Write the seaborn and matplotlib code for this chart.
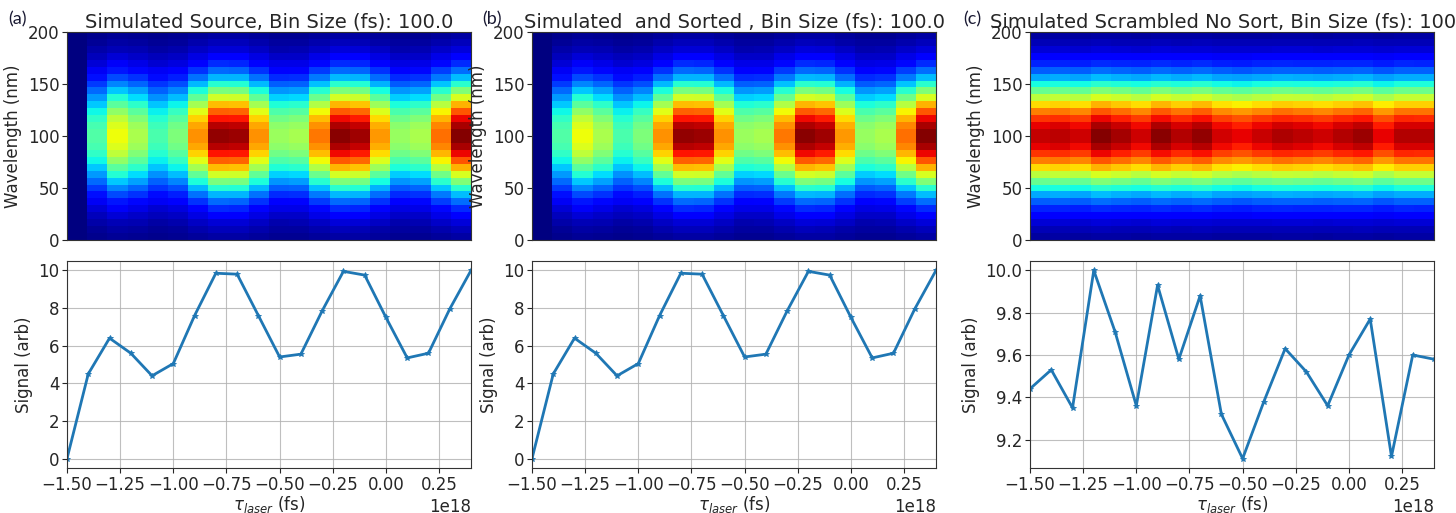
import numpy as np
import pandas as pd
import seaborn as sns
import matplotlib.pyplot as plt

# %%
# delay axis (fs), 20 bins
tau = [-1.5e18, -1.4e18, -1.3e18, -1.2e18, -1.1e18, -1.0e18, -0.9e18, -0.8e18, -0.7e18, -0.6e18,
       -0.5e18, -0.4e18, -0.3e18, -0.2e18, -0.1e18, 0.0, 0.1e18, 0.2e18, 0.3e18, 0.4e18]

signal_source = [0.0, 4.5, 6.4, 5.6, 4.4, 5.05, 7.6, 9.85, 9.8, 7.6,
                 5.4, 5.55, 7.85, 9.95, 9.75, 7.5, 5.35, 5.6, 7.95, 10.0]
signal_sorted = [0.0, 4.5, 6.4, 5.6, 4.4, 5.05, 7.6, 9.85, 9.8, 7.6,
                 5.4, 5.55, 7.85, 9.95, 9.75, 7.5, 5.35, 5.6, 7.95, 10.0]
signal_scrambled = [9.44, 9.53, 9.35, 10.0, 9.71, 9.36, 9.93, 9.58, 9.88, 9.32,
                    9.11, 9.38, 9.63, 9.52, 9.36, 9.6, 9.77, 9.12, 9.6, 9.58]

# spectral profile, 30 rows from 0 to 200 nm (relative)
spectrum = [0.033, 0.052, 0.079, 0.117, 0.167, 0.231, 0.309, 0.401, 0.504, 0.612,
            0.720, 0.820, 0.904, 0.964, 0.996, 0.996, 0.964, 0.904, 0.820, 0.720,
            0.612, 0.504, 0.401, 0.309, 0.231, 0.167, 0.117, 0.079, 0.052, 0.033]

titles = ["Simulated Source, Bin Size (fs): 100.0",
          "Simulated  and Sorted , Bin Size (fs): 100.0",
          "Simulated Scrambled No Sort, Bin Size (fs): 100.0"]
letters = ["(a)", "(b)", "(c)"]
signals = [signal_source, signal_sorted, signal_scrambled]

# %%
sns.set_style("ticks")
plt.rcParams["font.family"] = "DejaVu Sans"

fig = plt.figure(figsize=(14.56, 5.13), dpi=100)
W, H = 1456, 513
lefts = [67, 532, 1030]
letter_x = [8, 482, 963]
width = 404
fs = 12

for k in range(3):
    x0 = lefts[k]
    ax_top = fig.add_axes([x0 / W, 1 - 240 / H, width / W, 208 / H])
    ax_bot = fig.add_axes([x0 / W, 1 - 468 / H, width / W, 207 / H])

    img = np.outer(spectrum, signals[k])
    sns.heatmap(img, ax=ax_top, cmap="jet", vmin=0, vmax=max(signals[k]), cbar=False,
                xticklabels=False, yticklabels=False)
    ax_top.invert_yaxis()
    n = len(spectrum)
    ax_top.set_yticks([0, n * 0.25, n * 0.5, n * 0.75, n])
    ax_top.set_yticklabels(["0", "50", "100", "150", "200"], rotation=0, fontsize=fs)
    ax_top.set_xticks([])
    ax_top.tick_params(axis="y", length=3.5, width=0.8, left=True, pad=2)
    ax_top.set_ylabel("Wavelength (nm)", fontsize=fs)
    for s in ax_top.spines.values():
        s.set_visible(True)
        s.set_linewidth(0.8)
        s.set_color("#333333")
    ax_top.set_title(titles[k], fontsize=14, pad=2)

    df = pd.DataFrame({"tau": tau, "signal": signals[k]})
    sns.lineplot(data=df, x="tau", y="signal", ax=ax_bot, color="#1f77b4",
                 linewidth=2, marker="*", markersize=4, markeredgewidth=0.6,
                 markeredgecolor="#1f77b4")
    ax_bot.set_xlim(-1.5e18, 0.4e18)
    ax_bot.set_xticks([-1.5e18, -1.25e18, -1.0e18, -0.75e18, -0.5e18, -0.25e18, 0.0, 0.25e18])
    ax_bot.grid(True, color="#b0b0b0", linewidth=0.8, alpha=0.8)
    ax_bot.tick_params(labelsize=fs, length=3.5, width=0.8, pad=2)
    ax_bot.xaxis.get_offset_text().set_fontsize(fs)
    ax_bot.set_xlabel(r"$\tau_{laser}$ (fs)", fontsize=fs, labelpad=0)
    ax_bot.set_ylabel("Signal (arb)", fontsize=fs)
    for s in ax_bot.spines.values():
        s.set_linewidth(0.8)
        s.set_color("#333333")

    fig.text(letter_x[k] / W, 1 - 24 / H, letters[k], fontsize=13, family="Lato",
             color="#1a1a33")

fig.axes[5].set_yticks([9.2, 9.4, 9.6, 9.8, 10.0])

plt.savefig("out.png", dpi=100)
